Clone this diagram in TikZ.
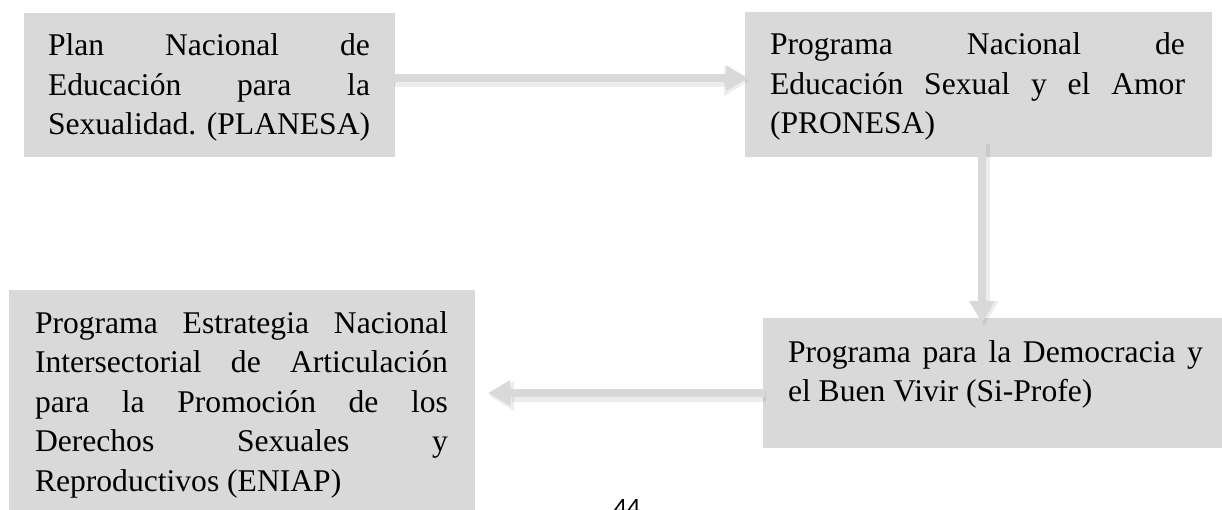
\documentclass[tikz,border=0pt]{standalone}
\usepackage{fontspec}
\setmainfont{Liberation Serif}
\newfontfamily\pagefont{Carlito}
\usetikzlibrary{arrows.meta,calc}
\definecolor{boxgray}{HTML}{D9D9D9}
\definecolor{arrgray}{HTML}{D9D9D9}
\tikzset{
  box/.style={fill=boxgray, draw=none, inner sep=0pt, outer sep=0pt, anchor=north west},
  txt/.style={anchor=north west, inner sep=0pt, outer sep=0pt, align=left, font=\fontsize{31.6}{39.5}\selectfont},
  arr/.style={draw=arrgray, line width=8pt, -{Triangle[width=24pt,length=22pt]}},
  arrshadow/.style={draw=black, opacity=0.07, line width=12pt, -{Triangle[width=28pt,length=25pt]}},
}
\newcommand\jline[2]{\makebox[#1][s]{#2}}
\begin{document}
\begin{tikzpicture}[x=1pt,y=-1pt]
\useasboundingbox (0,0) rectangle (1222,510);
\clip (0,0) rectangle (1222,510);
% boxes
\node[box, minimum width=371pt, minimum height=144pt] (b1) at (24,13) {};
\node[box, minimum width=467pt, minimum height=145pt] (b2) at (745,12) {};
\node[box, minimum width=470pt, minimum height=130pt] (b3) at (763,318) {};
\node[box, minimum width=466pt, minimum height=240pt] (b4) at (9,290) {};
% texts
\node[txt] (t1) at (48,32) {\rule{0pt}{24pt}\jline{322pt}{Plan Nacional de}\\\jline{322pt}{Educación para la}\\Sexualidad. (PLANESA)};
\node[txt] (t2) at (770,31) {\rule{0pt}{24pt}\jline{415pt}{Programa Nacional de}\\\jline{415pt}{Educación Sexual y el Amor}\\(PRONESA)};
\node[txt] (t3) at (788,338) {\rule{0pt}{24pt}\jline{415pt}{Programa para la Democracia y}\\el Buen Vivir (Si-Profe)};
\node[txt] (t4) at (35,309) {\rule{0pt}{24pt}\jline{413pt}{Programa Estrategia Nacional}\\\jline{413pt}{Intersectorial de Articulación}\\\jline{413pt}{para la Promoción de los}\\\jline{413pt}{Derechos Sexuales y}\\Reproductivos (ENIAP)};
% arrows
\coordinate (s1) at ($(b1.east)+(-2,-7)$);
\coordinate (e1) at ($(b1.east -| b2.west)+(3,-7)$);
\coordinate (s2) at ($(b2.south)+(3.5,-14)$);
\coordinate (e2) at ($(s2 |- b3.north)+(0,5)$);
\coordinate (s3) at ($(b3.west)+(2,10)$);
\coordinate (e3) at ($(s3 -| b4.east)+(13,0)$);
\draw[arrshadow] ($(s1)+(1,3)$) -- ($(e1)+(1,3)$);
\draw[arrshadow] ($(s2)+(2,1)$) -- ($(e2)+(2,3)$);
\draw[arrshadow] ($(s3)+(1,3)$) -- ($(e3)+(1,3)$);
\draw[arr] (s1) -- (e1);
\draw[arr] (s2) -- (e2);
\draw[arr] (s3) -- (e3);
% page number
\node[anchor=base, inner sep=0pt, font=\pagefont\fontsize{26.5}{30}\selectfont] (pg) at (627,516) {44};
\end{tikzpicture}
\end{document}
